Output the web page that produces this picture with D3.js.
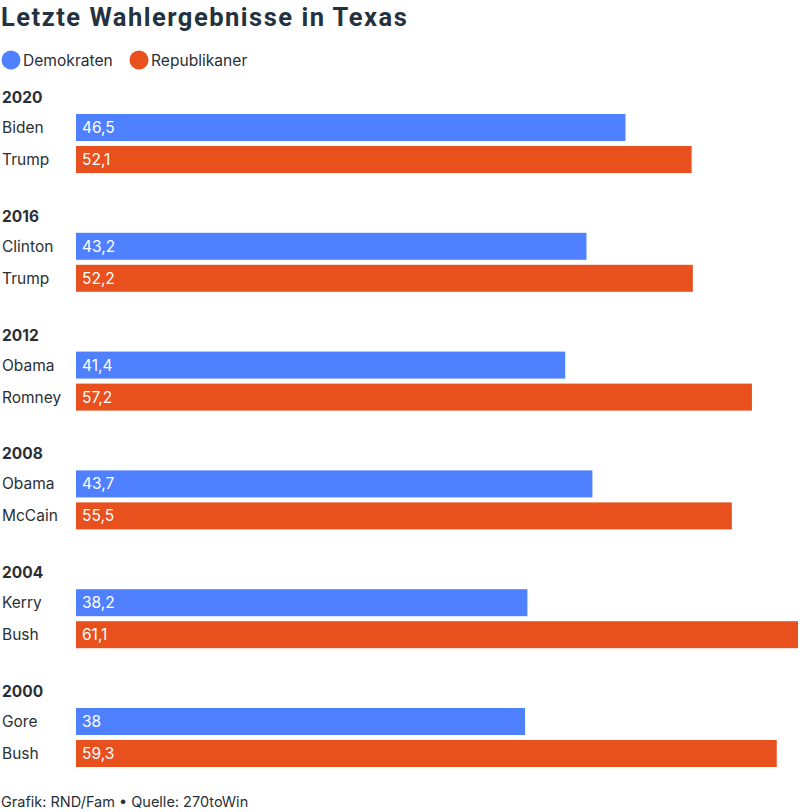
<!DOCTYPE html>
<html><head><meta charset="utf-8">
<script src="https://cdn.jsdelivr.net/npm/d3@7"></script>
<style>body{margin:0;background:#fff;} svg{display:block;}</style>
</head><body>
<script>
const years = ["2020","2016","2012","2008","2004","2000"];
const demNames = ["Biden","Clinton","Obama","Obama","Kerry","Gore"];
const demValues = [46.5,43.2,41.4,43.7,38.2,38];
const repNames = ["Trump","Trump","Romney","McCain","Bush","Bush"];
const repValues = [52.1,52.2,57.2,55.5,61.1,59.3];
const seriesNames = ["Demokraten","Republikaner"];
const colors = ["#4f80ff","#e8501e"];

const W=800,H=812;
const svg=d3.select("body").append("svg").attr("width",W).attr("height",H);
const font="Inter, 'Noto Sans', sans-serif";
const textCol="#2a2f36";

svg.append("text").attr("x",1).attr("y",26).text("Letzte Wahlergebnisse in Texas")
  .attr("font-family","Roboto, sans-serif").attr("font-weight",700).attr("font-size",25.5)
  .attr("letter-spacing",1.5).attr("fill","#243240");

// legend
const leg=[{x:11,t:seriesNames[0],c:colors[0]},{x:139,t:seriesNames[1],c:colors[1]}];
leg.forEach(d=>{
  svg.append("circle").attr("cx",d.x).attr("cy",60).attr("r",9.5).attr("fill",d.c);
  svg.append("text").attr("x",d.x+12).attr("y",65.5).text(d.t).attr("font-family",font)
    .attr("font-size",15.6).attr("fill",textCol);
});

const x=d3.scaleLinear().domain([0,61.1]).range([76,798]);
const groupY=d3.scaleLinear().domain([0,5]).range([114,708]);
const barH=27, gap=5;

years.forEach((yr,i)=>{
  const y0=groupY(i);
  svg.append("text").attr("x",2).attr("y",y0-11).text(yr).attr("font-family",font)
    .attr("font-weight",700).attr("font-size",15.5).attr("fill",textCol);
  const rows=[{n:demNames[i],v:demValues[i],c:colors[0],y:y0},{n:repNames[i],v:repValues[i],c:colors[1],y:y0+barH+gap}];
  rows.forEach(r=>{
    svg.append("rect").attr("x",x(0)).attr("y",r.y).attr("width",x(r.v)-x(0)).attr("height",barH).attr("fill",r.c);
    svg.append("text").attr("x",2).attr("y",r.y+barH/2+5.5).text(r.n).attr("font-family",font)
      .attr("font-size",15.5).attr("fill",textCol);
    svg.append("text").attr("x",x(0)+6).attr("y",r.y+barH/2+5.5).text(String(r.v).replace(".",","))
      .attr("font-family",font).attr("font-size",15.5).attr("fill","#fff");
  });
});

svg.append("text").attr("x",1).attr("y",807).text("Grafik: RND/Fam \u2022 Quelle: 270toWin")
  .attr("font-family",font).attr("font-size",14.5).attr("fill",textCol);
</script>
</body></html>
